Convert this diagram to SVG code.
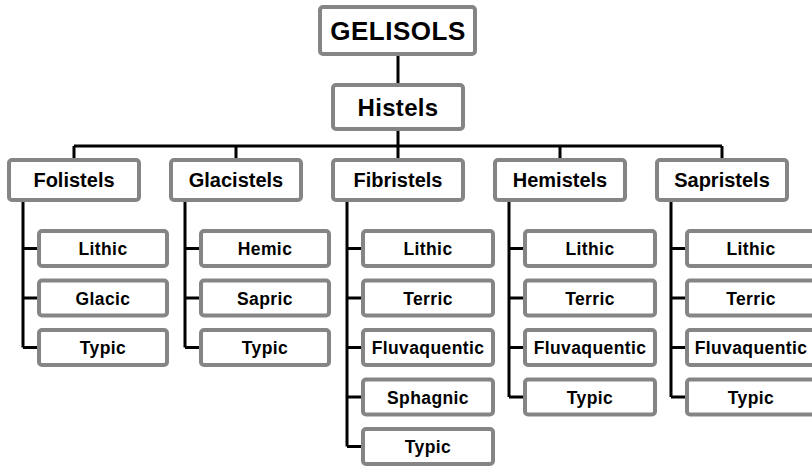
<svg xmlns="http://www.w3.org/2000/svg" width="812" height="466" viewBox="0 0 812 466">
<style>
.box{fill:#fff;stroke:#858585;stroke-width:4}
.ln{fill:none;stroke:#000;stroke-width:3}
text{font-family:"Liberation Sans",Arial,sans-serif;font-weight:bold;fill:#000;text-anchor:middle}
.t0{font-size:26px;letter-spacing:0.5px}
.t1{font-size:24px;letter-spacing:0.3px}
.t2{font-size:20px}
.t3{font-size:17.5px;letter-spacing:0.4px}
</style>
<rect width="812" height="466" fill="#fff"/>
<g id="connectors">
<path class="ln" d="M398 56V83M398 131V146M74 146H722M74 146V158M236 146V158M398 146V158M560 146V158M722 146V158"/>
<path class="ln" d="M23 201V347.5M23 248.5H37M23 298H37M23 347.5H37"/>
<path class="ln" d="M185 201V347.5M185 248.5H199M185 298H199M185 347.5H199"/>
<path class="ln" d="M347 201V446.5M347 248.5H361M347 298H361M347 347.5H361M347 397H361M347 446.5H361"/>
<path class="ln" d="M509 201V397M509 248.5H523M509 298H523M509 347.5H523M509 397H523"/>
<path class="ln" d="M671 201V397M671 248.5H685M671 298H685M671 347.5H685M671 397H685"/>
</g>
<g id="gelisols"><rect class="box" x="320" y="7" width="155" height="47" rx="3"/><text class="t0" x="398" y="40">GELISOLS</text></g>
<g id="histels"><rect class="box" x="333" y="85" width="130" height="44" rx="3"/><text class="t1" x="398" y="116">Histels</text></g>

<g id="folistels"><rect class="box" x="9" y="160" width="130" height="40" rx="3"/><text class="t2" x="74" y="187">Folistels</text></g>
<g id="glacistels"><rect class="box" x="171" y="160" width="130" height="40" rx="3"/><text class="t2" x="236" y="187">Glacistels</text></g>
<g id="fibristels"><rect class="box" x="333" y="160" width="130" height="40" rx="3"/><text class="t2" x="398" y="187">Fibristels</text></g>
<g id="hemistels"><rect class="box" x="495" y="160" width="130" height="40" rx="3"/><text class="t2" x="560" y="187">Hemistels</text></g>
<g id="sapristels"><rect class="box" x="657" y="160" width="130" height="40" rx="3"/><text class="t2" x="722" y="187">Sapristels</text></g>

<g id="folistels-lithic"><rect class="box" x="39" y="231" width="128" height="35" rx="3"/><text class="t3" x="103" y="255">Lithic</text></g>
<g id="folistels-glacic"><rect class="box" x="39" y="280.5" width="128" height="35" rx="3"/><text class="t3" x="103" y="304.5">Glacic</text></g>
<g id="folistels-typic"><rect class="box" x="39" y="330" width="128" height="35" rx="3"/><text class="t3" x="103" y="354">Typic</text></g>

<g id="glacistels-hemic"><rect class="box" x="201" y="231" width="128" height="35" rx="3"/><text class="t3" x="265" y="255">Hemic</text></g>
<g id="glacistels-sapric"><rect class="box" x="201" y="280.5" width="128" height="35" rx="3"/><text class="t3" x="265" y="304.5">Sapric</text></g>
<g id="glacistels-typic"><rect class="box" x="201" y="330" width="128" height="35" rx="3"/><text class="t3" x="265" y="354">Typic</text></g>

<g id="fibristels-lithic"><rect class="box" x="363" y="231" width="130" height="35" rx="3"/><text class="t3" x="428" y="255">Lithic</text></g>
<g id="fibristels-terric"><rect class="box" x="363" y="280.5" width="130" height="35" rx="3"/><text class="t3" x="428" y="304.5">Terric</text></g>
<g id="fibristels-fluvaquentic"><rect class="box" x="363" y="330" width="130" height="35" rx="3"/><text class="t3" x="428" y="354">Fluvaquentic</text></g>
<g id="fibristels-sphagnic"><rect class="box" x="363" y="379.5" width="130" height="35" rx="3"/><text class="t3" x="428" y="403.5">Sphagnic</text></g>
<g id="fibristels-typic"><rect class="box" x="363" y="429" width="130" height="35" rx="3"/><text class="t3" x="428" y="453">Typic</text></g>

<g id="hemistels-lithic"><rect class="box" x="525" y="231" width="130" height="35" rx="3"/><text class="t3" x="590" y="255">Lithic</text></g>
<g id="hemistels-terric"><rect class="box" x="525" y="280.5" width="130" height="35" rx="3"/><text class="t3" x="590" y="304.5">Terric</text></g>
<g id="hemistels-fluvaquentic"><rect class="box" x="525" y="330" width="130" height="35" rx="3"/><text class="t3" x="590" y="354">Fluvaquentic</text></g>
<g id="hemistels-typic"><rect class="box" x="525" y="379.5" width="130" height="35" rx="3"/><text class="t3" x="590" y="403.5">Typic</text></g>

<g id="sapristels-lithic"><rect class="box" x="687" y="231" width="130" height="35" rx="3"/><text class="t3" x="751" y="255">Lithic</text></g>
<g id="sapristels-terric"><rect class="box" x="687" y="280.5" width="130" height="35" rx="3"/><text class="t3" x="751" y="304.5">Terric</text></g>
<g id="sapristels-fluvaquentic"><rect class="box" x="687" y="330" width="130" height="35" rx="3"/><text class="t3" x="751" y="354">Fluvaquentic</text></g>
<g id="sapristels-typic"><rect class="box" x="687" y="379.5" width="130" height="35" rx="3"/><text class="t3" x="751" y="403.5">Typic</text></g>
</svg>
